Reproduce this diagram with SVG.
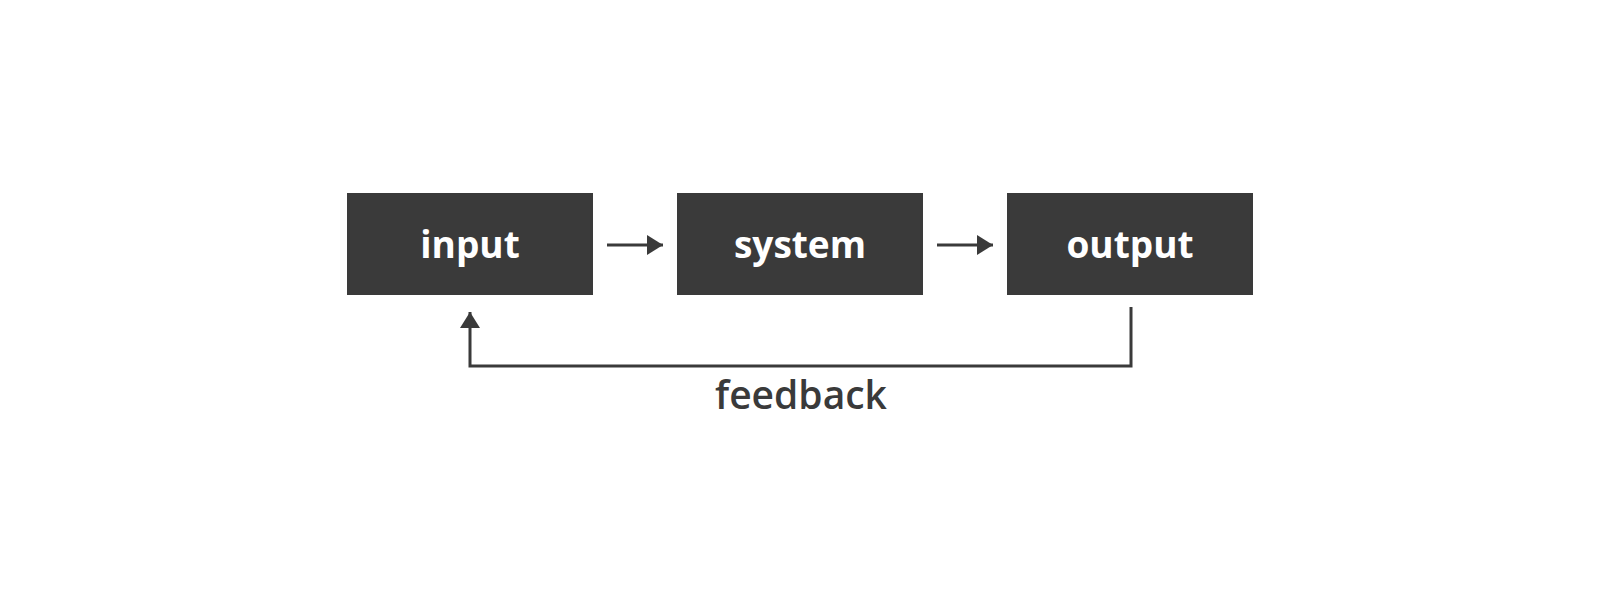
<svg xmlns="http://www.w3.org/2000/svg" width="1600" height="600" viewBox="0 0 1600 600">
<style>
.box{fill:#3a3a3a}
.lbl{font-family:"Open Sans","Liberation Sans",sans-serif;font-weight:700;font-size:37px;fill:#ffffff;text-anchor:middle}
.fb{font-family:"Open Sans","Liberation Sans",sans-serif;font-weight:600;font-size:39px;fill:#3a3a3a;text-anchor:middle}
.ln{stroke:#3a3a3a;stroke-width:3;fill:none}
</style>
<defs>
<marker id="ah" viewBox="0 0 16 20" refX="16" refY="10" markerUnits="userSpaceOnUse" markerWidth="16" markerHeight="20" orient="auto">
<path d="M0,0 L16,10 L0,20 Z" fill="#3a3a3a"/>
</marker>
</defs>
<rect width="1600" height="600" fill="#ffffff"/>
<g id="input"><rect class="box" x="347" y="193" width="246" height="102"/><text class="lbl" x="470" y="258">input</text></g>
<g id="system"><rect class="box" x="677" y="193" width="246" height="102"/><text class="lbl" x="800" y="258">system</text></g>
<g id="output"><rect class="box" x="1007" y="193" width="246" height="102"/><text class="lbl" x="1130" y="258">output</text></g>
<g id="connectors">
<line class="ln" x1="607" y1="245" x2="663" y2="245" marker-end="url(#ah)"/>
<line class="ln" x1="937" y1="245" x2="993" y2="245" marker-end="url(#ah)"/>
<polyline class="ln" points="1131,307 1131,366 470,366 470,312" marker-end="url(#ah)"/>
<text class="fb" x="801" y="409">feedback</text>
</g>
</svg>
